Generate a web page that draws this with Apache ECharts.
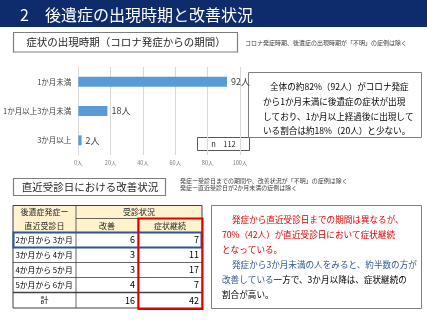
<!DOCTYPE html>
<html><head><meta charset="utf-8">
<script src="https://cdn.jsdelivr.net/npm/echarts@6/dist/echarts.min.js"></script>
<style>html,body{margin:0;padding:0;background:#fff}#c{width:427px;height:320px}</style>
</head><body><div id="c"></div>
<script>
// ---- data ----
const categories = ['1か月未満', '1か月以上3か月未満', '3か月以上'];
const counts = [92, 18, 2];
const sampleSize = 112;
const periodLabels = ['2か月から 3か月', '3か月から 4か月', '4か月から 5か月', '5か月から 6か月'];
const improved = [6, 3, 3, 4];
const continuing = [7, 11, 17, 7];
const totalImproved = 16;
const totalContinuing = 42;

const FF = '"Noto Sans CJK JP", "Noto Sans", sans-serif';
function txt(text, x, y, size, color, align, extra) {
  return Object.assign({
    type: 'text', silent: true,
    style: { text: text, x: x, y: y, fill: color || '#262626', fontSize: size, fontFamily: FF,
      textAlign: align || 'left', align: align || 'left', textVerticalAlign: 'middle', verticalAlign: 'middle' }
  }, extra || {});
}
function rect(x, y, w, h, stroke, lw, fill) {
  return { type: 'rect', silent: true, shape: { x: x, y: y, width: w, height: h },
    style: { fill: fill || 'none', stroke: stroke || 'none', lineWidth: lw || 1 } };
}
function line(x1, y1, x2, y2, stroke, lw) {
  return { type: 'line', silent: true, shape: { x1: x1, y1: y1, x2: x2, y2: y2 },
    style: { stroke: stroke, lineWidth: lw || 1 } };
}

const els = [];
// title bar
els.push(rect(0, 0, 427, 27, null, 0, '#0e2b6c'));
els.push(txt('2　後遺症の出現時期と改善状況', 20, 14.5, 16, '#ffffff'));
// section 1 header
els.push(rect(13.5, 32.5, 224, 19.5, '#7f7f7f', 1.2, '#ffffff'));
els.push(txt('症状の出現時期（コロナ発症からの期間）', 126, 42.5, 10.5, '#262626', 'center'));
els.push(txt('コロナ発症時期、後遺症の出現時期が「不明」の症例は除く', 245, 42.5, 6, '#404040'));
// n box
els.push(rect(197.5, 137.5, 52, 13, '#595959', 1, '#ffffff'));
els.push(txt('n　' + sampleSize, 223.5, 144.5, 7.5, '#262626', 'center'));
// text box 1
els.push(rect(248.5, 72.5, 173, 65, '#7f7f7f', 1, '#ffffff'));
const box1 = ['全体の約82%（92人）がコロナ発症', 'から1か月未満に後遺症の症状が出現', 'しており、1か月以上経過後に出現して', 'いる割合は約18%（20人）と少ない。'];
const box1x = [270, 263, 263, 263];
const box1y = [86.5, 101.5, 116.5, 130.5];
box1.forEach((t, i) => els.push(txt(t, box1x[i], box1y[i], 8.6, '#000000')));

// section 2 header
els.push(rect(13.5, 178.5, 152, 17, '#7f7f7f', 1.2, '#ffffff'));
els.push(txt('直近受診日における改善状況', 90, 187, 10.5, '#262626', 'center'));
els.push(txt('発症ー受診日までの期間や、改善状況が「不明」の症例は除く', 180, 181, 6, '#404040'));
els.push(txt('発症ー直近受診日が2か月未満の症例は除く', 180, 188, 6, '#404040'));

// table
const cx = [13, 76, 138, 202];
const ry = [205.5, 218.5, 232.5, 247.5, 262.5, 277.5, 292.5, 308];
els.push(rect(cx[0], ry[0], cx[3] - cx[0], ry[2] - ry[0], null, 0, '#fff2cc'));
els.push(line(cx[0], ry[0], cx[3], ry[0], '#404040', 1));
els.push(line(cx[1], ry[1], cx[3], ry[1], '#404040', 0.8));
for (let i = 2; i < ry.length - 1; i++) els.push(line(cx[0], ry[i], cx[3], ry[i], '#404040', i === 6 ? 1.6 : 0.8));
els.push(line(cx[0], ry[7], cx[3], ry[7], '#404040', 1));
els.push(line(cx[0], ry[0], cx[0], ry[7], '#404040', 1));
els.push(line(cx[1], ry[0], cx[1], ry[7], '#404040', 0.8));
els.push(line(cx[2], ry[1], cx[2], ry[7], '#404040', 0.8));
els.push(line(cx[3], ry[0], cx[3], ry[7], '#404040', 1));
els.push(txt('後遺症発症ー', (cx[0] + cx[1]) / 2, (ry[0] + ry[1]) / 2, 8, '#262626', 'center'));
els.push(txt('直近受診日', (cx[0] + cx[1]) / 2, (ry[1] + ry[2]) / 2, 8, '#262626', 'center'));
els.push(txt('受診状況', (cx[1] + cx[3]) / 2, (ry[0] + ry[1]) / 2, 8, '#262626', 'center'));
els.push(txt('改善', (cx[1] + cx[2]) / 2, (ry[1] + ry[2]) / 2, 8, '#262626', 'center'));
els.push(txt('症状継続', (cx[2] + cx[3]) / 2, (ry[1] + ry[2]) / 2, 8, '#262626', 'center'));
periodLabels.forEach((p, i) => {
  const yc = (ry[2 + i] + ry[3 + i]) / 2;
  els.push(txt(p, 15.5, yc, 7.8, '#000000', 'left'));
  els.push(txt(String(improved[i]), cx[2] - 3, yc, 9, '#000000', 'right'));
  els.push(txt(String(continuing[i]), cx[3] - 3, yc, 9, '#000000', 'right'));
});
const yt = (ry[6] + ry[7]) / 2;
els.push(txt('計', (cx[0] + cx[1]) / 2, yt, 8, '#000000', 'center'));
els.push(txt(String(totalImproved), cx[2] - 3, yt, 9, '#000000', 'right'));
els.push(txt(String(totalContinuing), cx[3] - 3, yt, 9, '#000000', 'right'));
els.push(rect(cx[0] + 0.5, ry[2], cx[3] - cx[0] - 1, ry[3] - ry[2], '#2f5597', 2));
els.push(rect(cx[2] + 0.5, ry[1], cx[3] - cx[2], ry[7] - ry[1] + 1, '#e00000', 2));

// text box 2
els.push(rect(211.5, 205.5, 210, 103, '#7f7f7f', 1, '#ffffff'));
const R = '#e00000', B = '#2f5597', K = '#000000';
const F2 = 8.6;
els.push(txt('発症から直近受診日までの期間は異なるが、', 232, 219.5, F2, R));
els.push(txt('70%（42人）が直近受診日において症状継続', 222, 234.5, F2, R));
els.push(txt('となっている。', 222, 249.5, F2, R));
els.push(txt('発症から3か月未満の人をみると、約半数の方が', 232, 264.5, F2, B));
els.push({ type: 'text', silent: true, style: {
  text: '{b|改善している}{k|一方で、3か月以降は、症状継続の}', x: 222, y: 279.5,
  textAlign: 'left', align: 'left', textVerticalAlign: 'middle', verticalAlign: 'middle',
  fontSize: F2, fontFamily: FF,
  rich: { b: { fill: B, color: B, fontSize: F2, fontFamily: FF }, k: { fill: K, color: K, fontSize: F2, fontFamily: FF } } } });
els.push(txt('割合が高い。', 222, 294.5, F2, K));

const chart = echarts.init(document.getElementById('c'), null, { renderer: 'canvas' });
chart.setOption({
  animation: false,
  backgroundColor: '#ffffff',
  textStyle: { fontFamily: FF },
  grid: { left: 77, right: 187, top: 67, bottom: 165 },
  xAxis: {
    type: 'value', min: 0, max: 100, interval: 20,
    axisLine: { show: false }, axisTick: { show: false },
    splitLine: { lineStyle: { color: '#d9d9d9', width: 1 } },
    axisLabel: { formatter: '{value}人', fontSize: 5.5, color: '#7f7f7f', margin: 5, fontFamily: FF }
  },
  yAxis: {
    type: 'category', data: categories, inverse: true,
    axisLine: { show: true, lineStyle: { color: '#d9d9d9' } }, axisTick: { show: false },
    axisLabel: { fontSize: 7.5, color: '#404040', margin: 7, fontFamily: FF }
  },
  series: [{
    type: 'bar', data: counts, barWidth: 10,
    itemStyle: { color: '#5b9bd5' },
    label: { show: true, position: 'right', distance: 4, formatter: '{c}人', fontSize: 9, color: '#404040', fontFamily: FF }
  }],
  graphic: { elements: els }
});
</script></body></html>
